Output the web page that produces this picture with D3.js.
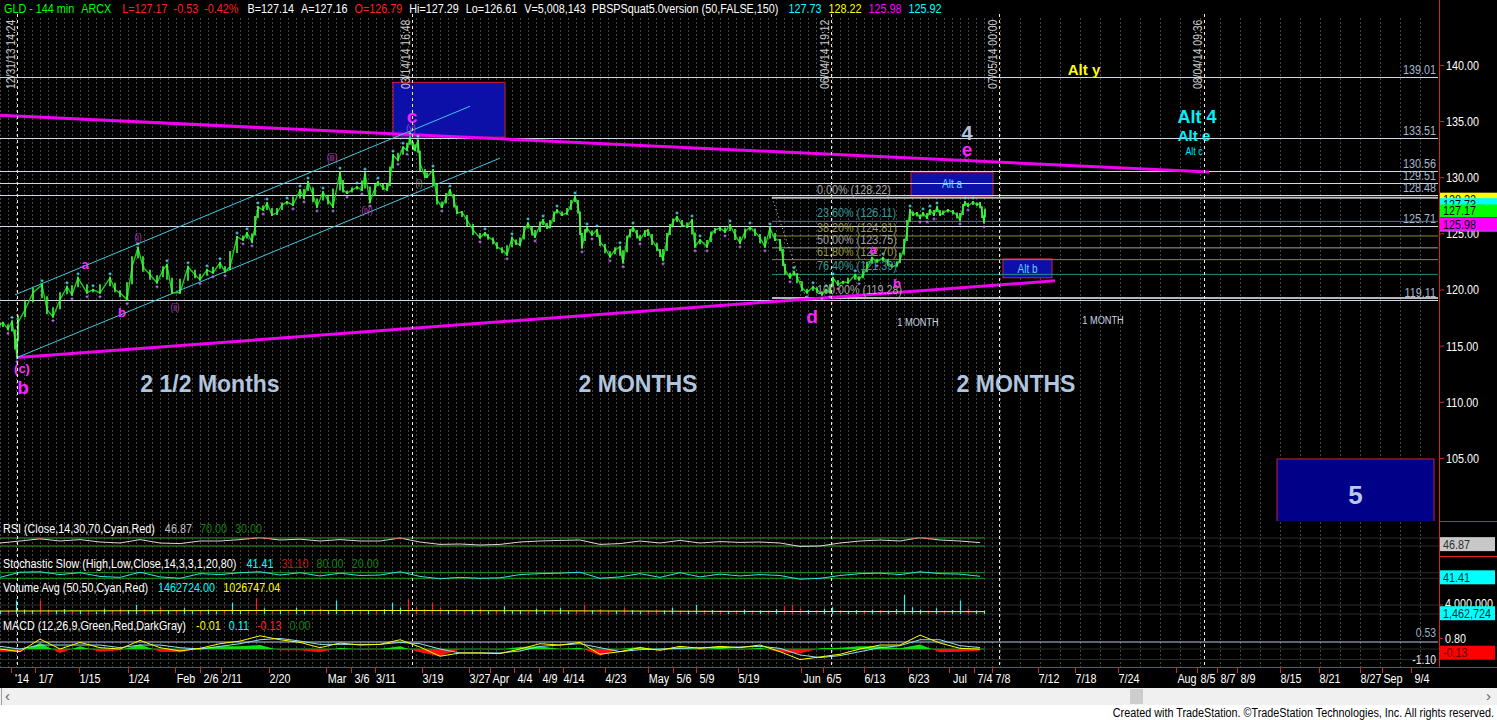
<!DOCTYPE html>
<html><head><meta charset="utf-8">
<script src="https://cdn.jsdelivr.net/npm/d3@7"></script>
<style>
html,body{margin:0;padding:0;background:#000;overflow:hidden}
svg{display:block}
text{font-family:'Liberation Sans',Arial,sans-serif}
</style></head><body>
<svg id="c" width="1497" height="720"></svg>
<script>
// ---------------- DATA ----------------
const headerText = ["GLD - 144 min","ARCX","L=127.17","-0.53","-0.42%","B=127.14","A=127.16","O=126.79","Hi=127.29","Lo=126.61","V=5,008,143","PBSPSquat5.0version (50,FALSE,150)","127.73","128.22","125.98","125.92"];
const headerCol  = ["#00ff00","#00ff00","#ff2020","#ff2020","#ff2020","#fff","#fff","#ff2020","#fff","#fff","#fff","#fff","#00ffff","#ffff00","#ff00ff","#00ffff"];
const headerGap  = [7,11,6,6,9,7,7,7,7,7,6,10,7,7,7,0];

const priceTicks = [105,110,115,120,125,130,135,140];
const xTickLabels = ["'14","1/7","1/15","1/24","Feb","2/6","2/11","2/20","Mar","3/6","3/11","3/19","3/27","Apr","4/4","4/9","4/14","4/23","May","5/6","5/9","5/19","Jun","6/5","6/13","6/23","Jul","7/4","7/8","7/12","7/18","7/24","Aug","8/5","8/7","8/9","8/15","8/21","8/27","Sep","9/4"];
const xTickBars   = [11,23,45,69.5,93,105.5,116,140,168.5,181,193,216.5,240,250.5,262.5,275,287,308,329.5,342,353.5,374.5,406,417,437.5,459.5,480,492.5,501.5,524.5,543,564.5,593.5,604,614,624,645.5,665,685.5,696.5,711];

// price path [bar, price]
const pricePath = [[0,116.9],[1.5,117.09],[4,116.5],[6,117.2],[7.5,115.58],[8.5,113.98],[9,117.09],[12.5,118.24],[16.5,119.75],[21,120.46],[23.5,118.24],[26.5,117.62],[30,119.13],[33.5,120.28],[36,119.57],[39,121.08],[43.5,119.75],[46.5,120.02],[50,119.75],[55,121.08],[57.5,120.02],[60,119.75],[63.5,119.13],[66,122.06],[69,123.75],[71.5,122.06],[75,121.35],[78.5,120.64],[81.5,121.79],[83.5,122.24],[86,119.75],[90,119.75],[94,122.06],[97.5,121.35],[100,120.91],[103.5,121.79],[106.5,121.53],[110,122.42],[112.5,121.62],[115,122.06],[118.5,124.72],[121.5,124.46],[123.5,125.08],[126,124.28],[127.5,125.61],[129,127.39],[131.5,127.12],[133.5,127.74],[136,126.68],[138.5,126.86],[141,127.57],[143.5,127.83],[146.5,127.57],[150,128.9],[152,128.19],[154,129.61],[156.5,128.45],[158.5,127.39],[161.5,128.72],[164,128.01],[166.5,127.39],[170,130.5],[171.5,128.9],[173.5,128.63],[176,128.9],[178.5,129.17],[181,128.9],[182.5,130.41],[185,127.83],[187.5,129.08],[189,129.61],[191.5,129.08],[193.5,128.9],[195,129.79],[196.5,132.01],[199,131.56],[201.5,132.72],[203.5,132.45],[205,133.61],[206.5,132.63],[207.5,132.45],[209,133.34],[210,131.3],[212.5,130.05],[213.5,130.05],[216.5,130.68],[218.5,128.01],[221,127.39],[223,128.19],[225,128.9],[227,128.01],[228.5,126.86],[231,126.94],[233.5,126.23],[236.5,125.35],[240,124.64],[242.5,125.08],[244,124.72],[246.5,124.46],[248.5,123.84],[251,123.57],[253.5,123.13],[256,124.64],[258,124.19],[260,124.01],[262,125.17],[264,125.97],[266,125.17],[267.5,124.72],[270,125.79],[271.5,126.23],[273.5,125.52],[275,125.61],[277,126.68],[278.5,127.12],[281,126.68],[283.5,126.86],[285.5,127.57],[287.5,128.28],[289,127.57],[290,126.23],[291,123.75],[292.5,125.17],[293.5,125.52],[296,124.9],[298.5,125.35],[300,124.28],[302.5,123.75],[305,122.95],[307.5,123.57],[310,123.84],[311.5,122.42],[313.5,124.46],[315,125.08],[316.5,125.61],[318.5,124.9],[320,124.46],[322.5,125.17],[324,125.35],[326,124.46],[328.5,123.75],[330,123.39],[331.5,122.68],[333.5,124.46],[335,125.52],[336.5,126.06],[338.5,126.5],[341,125.79],[343.5,125.61],[346,126.23],[347.5,123.84],[350,124.46],[353.5,123.84],[355.5,124.9],[357.5,125.35],[360,125.52],[362.5,125.17],[365,125.79],[367.5,124.9],[370,124.19],[372.5,125.17],[375,125.61],[377.5,125.17],[380,124.64],[382.5,123.84],[385,125.52],[387.5,124.46],[390,124.46],[391.5,122.68],[392.5,121.79],[395,121.08],[397,121.62],[398.5,121.17],[401,120.2],[403.5,119.75],[406.5,120.28],[408.5,120.02],[411,119.57],[413,120.02],[415,119.75],[416.5,121.08],[419,120.46],[421.5,120.73],[424,120.64],[427.5,121.35],[429.5,120.91],[431.5,121.35],[433.5,121.97],[436,122.86],[438.5,122.51],[441.5,122.86],[444,122.42],[446,122.06],[448.5,122.24],[450,122.68],[452,123.75],[453.5,125.17],[455,127.12],[456.5,126.68],[458.5,126.86],[460,126.41],[461.5,126.86],[463.5,126.41],[465,127.12],[467,126.68],[468.5,127.39],[470,126.68],[471.5,126.86],[474,127.12],[476.5,126.94],[478.5,126.68],[480,126.23],[481.5,127.3],[482.5,127.83],[484,127.48],[486.5,127.83],[488.5,127.57],[490,127.74],[491,127.0],[492,125.98],[492.5,127.17]];

const levelLines = [139.01,133.51,130.56,129.51,128.48,125.71,119.11];
const fibPct = ["0.00%","23.60%","38.20%","50.00%","61.80%","76.40%","100.00%"];
const fibVal = [128.22,126.11,124.81,123.75,122.70,121.39,119.28];
const fibStartBar = 386, fibLabelBar = 408.5;
const fibDiag = [[386,128.22],[403,119.28]];

const upperTrend = [[0,135.55],[604.5,130.5]];
const lowerTrend = [[8.5,113.98],[527.5,120.82]];
const chanUpper = [[7.5,119.57],[235,136.36]];
const chanLower = [[8.5,113.98],[250,131.74]];

const boxNames = ["","Alt a","Alt b","5"];
const boxBar0  = [196.5,455.5,501.5,638.5];
const boxBar1  = [252.5,496.5,526,717];
const boxHi    = [138.49,130.5,122.77,104.95];
const boxLo    = [133.61,128.37,121.08,99.0];

const dateLineBars = [8.5,206,415.5,499.5,602];
const dateLineText = ["12/31/13 14:24","03/14/14 16:48","06/04/14 19:12","07/05/14 00:00","08/04/14 09:36"];

// annotations: text, bar, price, kind
const annText = ["c","(v)","(iii)","(iv)","(i)","(ii)","a","b","(c)","b","(i)","d","a","b","4","e","c","Alt y","Alt 4","Alt e","Alt c","1 MONTH","1 MONTH","2 1/2 Months","2 MONTHS","2 MONTHS"];
const annBar  = [206,205.5,166,183.5,69,87.5,42.5,61,11,11.5,209.5,406,436.5,448.5,483.5,483.5,483,542,598.5,597,597,459,551.5,105,319,508];
const annPrice= [135.45,134.4,131.74,127.03,124.64,118.42,122.24,117.97,113.0,111.3,129.5,117.62,123.57,120.55,133.96,132.54,131.7,139.6,135.4,133.8,132.4,117.1,117.3,111.67,111.67,111.67];
const annKind = ["major","sub","sub","sub","sub","sub","minor","minor","minor","major","subg","major","minor","minor","four","majorE","tiny","altY","alt4","altE","altC","month","month","dur","dur","dur"];

const axisBoxVal = [125.92,125.98,128.22,127.73,127.17];
const axisBoxCol = ["#00ffff","#ff00ff","#ffff00","#00ffff","#00ff00"];

// indicators, sampled every 10 bars
const rsiVals = [45,55,66,55,62,50,45,62,45,42,55,55,62,72,60,64,55,62,55,55,70,50,38,40,35,38,50,55,58,60,38,42,55,45,58,45,52,48,50,45,28,30,45,55,60,55,72,60,55,46.87];
const stochVals = [30,85,90,60,80,40,30,85,35,20,70,60,80,90,55,80,45,75,50,55,90,40,15,30,20,25,60,70,75,85,20,35,70,30,80,35,65,45,60,50,10,20,50,70,75,60,90,70,65,41.41];
const macdVals = [0.0,-0.2,0.75,0.0,0.5,0.1,0.0,0.65,0.1,-0.15,0.05,0.4,0.6,1.0,0.7,0.5,0.1,0.45,0.3,0.35,0.7,0.15,-0.55,-0.3,-0.3,-0.35,0.0,0.4,0.3,0.5,-0.4,-0.2,0.1,-0.1,0.2,0.05,0.2,0.1,0.3,-0.2,-0.8,-0.6,-0.4,0.0,0.3,0.3,1.05,0.45,0.05,-0.01];
const signalVals = [0.2,0.0,0.3,0.3,0.3,0.3,0.1,0.3,0.3,0.1,0.0,0.2,0.4,0.7,0.8,0.6,0.35,0.35,0.35,0.35,0.5,0.4,0.0,-0.3,-0.3,-0.3,-0.15,0.2,0.3,0.4,0.1,-0.2,-0.05,0.0,0.05,0.1,0.1,0.15,0.2,0.05,-0.45,-0.65,-0.5,-0.2,0.1,0.25,0.7,0.7,0.25,0.11];
// volume in millions every 4 bars, sign = up(+)/down(-)
const volVals = [1.2,-1.5,6.0,2.0,1.5,-6.0,-2.0,1.4,2.2,-1.2,1.6,-1.8,1.0,2.4,-1.3,-2.5,1.8,4.0,-2.2,1.4,-3.0,1.5,-1.6,2.6,1.3,-1.4,2.0,1.2,-1.5,5.0,1.8,-2.0,-7.0,2.5,-1.6,1.9,-1.2,2.8,1.5,-1.7,-2.4,1.3,6.0,-1.8,1.6,-2.0,1.4,-1.3,2.2,5.0,2.8,-6.5,-3.0,-2.2,-5.0,-2.6,1.8,-2.3,-1.5,2.0,-2.4,1.2,-1.6,3.5,1.4,1.8,-1.2,2.4,1.5,-1.3,2.6,1.2,-1.8,-4.0,1.6,-2.2,-1.5,1.3,-2.8,1.7,1.1,-1.4,-2.0,1.5,2.8,-1.2,1.4,4.0,-1.6,1.8,-1.1,1.3,-1.5,2.0,-1.2,1.6,-1.4,2.2,-3.5,-4.0,-2.5,1.8,-1.6,2.4,3.0,-1.5,1.3,1.8,-1.2,2.0,-1.8,1.5,2.2,8.5,3.0,2.0,-1.5,2.6,-1.3,1.8,6.0,-2.4,1.6,1.46];
const volAvgVals = [1.3,1.4,1.5,1.6,1.55,1.45,1.35,1.2,1.1,1.03];

// indicator title parts
const titleText = [
 ["RSI (Close,14,30,70,Cyan,Red)","46.87","70.00","30.00"],
 ["Stochastic Slow (High,Low,Close,14,3,3,1,20,80)","41.41","31.10","80.00","20.00"],
 ["Volume Avg (50,50,Cyan,Red)","1462724.00","1026747.04"],
 ["MACD (12,26,9,Green,Red,DarkGray)","-0.01","0.11","-0.13","0.00"]];
const titleCol = [
 ["#fff","#c0c0c0","#108010","#108010"],
 ["#fff","#00ffff","#d01010","#108010","#108010"],
 ["#fff","#00ffff","#ffff00"],
 ["#fff","#ffff00","#00ffff","#ff2020","#108010"]];

// ---------------- DRAW ----------------
const W=1497, H=720, PR=1439, MB=521, XA=667, NS=0.8;
const svg=d3.select('#c');
svg.append('rect').attr('width',W).attr('height',H).attr('fill','#000');

const x=d3.scaleLinear().domain([0,720]).range([0,1440]);
const y=d3.scaleLinear().domain([105,140]).range([458.4,65.4]);
const rsiY=d3.scaleLinear().domain([30,70]).range([546,538]);
const stoY=d3.scaleLinear().domain([20,80]).range([578.3,572.7]);
const volY=d3.scaleLinear().domain([0,4]).range([614,605]);
const macdY=d3.scaleLinear().domain([0,0.53]).range([649,642]);

const defs=svg.append('defs');
defs.append('clipPath').attr('id','cm').append('rect').attr('x',0).attr('y',0).attr('width',PR).attr('height',MB);
defs.append('clipPath').attr('id','ci').append('rect').attr('x',0).attr('y',MB).attr('width',PR).attr('height',XA-MB);

// grid
const gridBars=d3.range(0,500,4).concat(d3.range(500,720,10));
svg.append('g').selectAll('line').data(gridBars).join('line')
 .attr('x1',d=>Math.round(x(d))+0.5).attr('x2',d=>Math.round(x(d))+0.5)
 .attr('y1',18).attr('y2',XA).attr('stroke','#474747').attr('stroke-dasharray','2,2');

const gm=svg.append('g').attr('clip-path','url(#cm)');

// boxes
const boxIdx=d3.range(boxNames.length);
gm.selectAll('rect.box').data(boxIdx).join('rect').attr('class','box')
 .attr('x',i=>x(boxBar0[i])).attr('width',i=>x(boxBar1[i])-x(boxBar0[i]))
 .attr('y',i=>y(boxHi[i])).attr('height',i=>y(boxLo[i])-y(boxHi[i]))
 .attr('fill',i=>boxNames[i]==="5"?'#000088':'#0c10a8').attr('stroke','#c8203c').attr('stroke-width',1);
gm.selectAll('text.boxl').data(boxIdx.filter(i=>boxNames[i])).join('text')
 .attr('class',i=>boxNames[i]==="5"?'boxl':'boxl n')
 .attr('x',i=>(x(boxBar0[i])+x(boxBar1[i]))/2)
 .attr('y',i=>boxNames[i]==="5"?y(101.7):(y(boxHi[i])+y(boxLo[i]))/2)
 .attr('text-anchor','middle').attr('dominant-baseline','central')
 .style('font-weight',i=>boxNames[i]==="5"?'bold':'normal')
 .attr('font-size',i=>boxNames[i]==="5"?26:12.5)
 .attr('fill',i=>boxNames[i]==="5"?'#b8c8e8':'#60d0ff').text(i=>boxNames[i]);

// level lines
levelLines.forEach(v=>{
  gm.append('line').attr('x1',0).attr('x2',1438).attr('y1',Math.round(y(v))+0.5).attr('y2',Math.round(y(v))+0.5)
    .attr('stroke','#d0d8e6').attr('stroke-width',1);
  gm.append('text').attr('class','n').attr('x',1436).attr('y',y(v)-3).attr('text-anchor','end').attr('font-size',13.5)
    .attr('fill','#a8b8d0').text(v.toFixed(2));
});

// fib
const fibColor={"0.00%":"#b8b8b8","50.00%":"#a0a0a0","100.00%":"#b8b8b8","23.60%":"#2a8a8a","76.40%":"#2a8a8a","38.20%":"#8a8a2a","61.80%":"#8a8a2a"};
const fibText={"0.00%":"#a8a8a8","50.00%":"#a0a0a0","100.00%":"#a8a8a8","23.60%":"#3a9a9a","76.40%":"#3a9a9a","38.20%":"#9a9a40","61.80%":"#9a9a40"};
fibVal.forEach((v,i)=>{
  const wide=(fibPct[i]==="0.00%"||fibPct[i]==="100.00%");
  gm.append('line').attr('x1',x(fibStartBar)).attr('x2',1438).attr('y1',y(v)).attr('y2',y(v))
    .attr('stroke',fibColor[fibPct[i]]).attr('stroke-width',wide?2:1);
});
const ln=d3.line().x(d=>x(d[0])).y(d=>y(d[1]));
gm.append('path').attr('d',ln(fibDiag)).attr('stroke','#ddd').attr('stroke-dasharray','1,3').attr('fill','none');

// trendlines
[upperTrend,lowerTrend].forEach(t=>gm.append('path').attr('d',ln(t)).attr('stroke','#f000f0').attr('stroke-width',3).attr('fill','none'));
[chanUpper,chanLower].forEach(t=>gm.append('path').attr('d',ln(t)).attr('stroke','#40c8e0').attr('stroke-width',1).attr('fill','none'));

// price bars
const segs=pricePath.map((d,i)=>{
  const a=i>0?(pricePath[i-1][1]+d[1])/2:d[1];
  const b=i<pricePath.length-1?(pricePath[i+1][1]+d[1])/2:d[1];
  return [d[0],Math.min(a,b,d[1]),Math.max(a,b,d[1])];
});
gm.append('path').attr('d',ln(pricePath)).attr('stroke','#22cc22').attr('stroke-width',1.4).attr('fill','none');
gm.selectAll('line.pb').data(segs).join('line')
 .attr('x1',d=>x(d[0])).attr('x2',d=>x(d[0])).attr('y1',d=>y(d[1])+1).attr('y2',d=>y(d[2])-1)
 .attr('stroke','#44ff44').attr('stroke-width',1.6);
const peaks=[],troughs=[];
for(let i=1;i<pricePath.length-1;i++){
  const p=pricePath[i][1],a=pricePath[i-1][1],b=pricePath[i+1][1];
  if(p-a>0.2&&p-b>0.2) peaks.push(pricePath[i]);
  if(a-p>0.2&&b-p>0.2) troughs.push(pricePath[i]);
}
gm.selectAll('path.pk').data(peaks).join('path').attr('d',d=>`M${x(d[0])-1.5},${y(d[1])-4}h3M${x(d[0])},${y(d[1])-5.5}v3`).attr('stroke','#50e8ff').attr('stroke-width',1);
gm.selectAll('path.tr').data(troughs).join('path').attr('d',d=>`M${x(d[0])-1.5},${y(d[1])+4}h3M${x(d[0])},${y(d[1])+2.5}v3`).attr('stroke','#c878ff').attr('stroke-width',1);

// fib labels
fibVal.forEach((v,i)=>{
  gm.append('text').attr('class','n').attr('x',x(fibLabelBar)).attr('y',y(v)-4).attr('font-size',13.5)
    .attr('fill',fibText[fibPct[i]]).text(fibPct[i]+" ("+v.toFixed(2)+")");
});

// annotations
const annStyle={
 major:{s:19,c:'#ff20ff',b:true},majorE:{s:19,c:'#ff20ff',b:true},minor:{s:13,c:'#ff30ff',b:true},
 sub:{s:10,c:'#c040c0',b:false},subg:{s:10,c:'#909090',b:false},tiny:{s:9,c:'#ff30ff',b:false},
 four:{s:20,c:'#b0c4de',b:true},altY:{s:15,c:'#ffff00',b:true},alt4:{s:18,c:'#00f0ff',b:true},
 altE:{s:15,c:'#00f0ff',b:true},altC:{s:11,c:'#00e0ff',b:false},month:{s:11.5,c:'#c8d8e8',b:false},
 dur:{s:23,c:'#b0c4de',b:true}};
gm.selectAll('text.ann').data(d3.range(annText.length)).join('text')
 .attr('class',i=>annStyle[annKind[i]].b?'ann':'ann n')
 .attr('x',i=>x(annBar[i])).attr('y',i=>y(annPrice[i])).attr('text-anchor','middle').attr('dominant-baseline','central')
 .style('font-weight',i=>annStyle[annKind[i]].b?'bold':'normal')
 .attr('font-size',i=>annStyle[annKind[i]].s).attr('fill',i=>annStyle[annKind[i]].c).text(i=>annText[i]);

// ------- indicators -------
const gi=svg.append('g').attr('clip-path','url(#ci)');
const indBars=d3.range(0,500,10);
const endBar=492.5;
[rsiY(70),rsiY(30),stoY(80),stoY(20),volY(4),volY(0),macdY(0),macdY(-0.8)].forEach(v=>{
  gi.append('line').attr('x1',0).attr('x2',PR).attr('y1',v).attr('y2',v).attr('stroke','#2c2c2c');
});
[70,30].forEach(v=>gi.append('line').attr('x1',0).attr('x2',x(endBar)).attr('y1',rsiY(v)).attr('y2',rsiY(v)).attr('stroke','#1f8f1f'));
const rsiLine=d3.line().x((d,i)=>x(indBars[i])).y(d=>rsiY(d));
gi.append('path').attr('d',rsiLine(rsiVals)).attr('stroke','#d8d8d8').attr('fill','none');
defs.append('clipPath').attr('id','rsiHi').append('rect').attr('x',0).attr('y',0).attr('width',PR).attr('height',rsiY(68));
gi.append('path').attr('d',rsiLine(rsiVals)).attr('stroke','#ff2020').attr('fill','none').attr('clip-path','url(#rsiHi)');
[80,20].forEach(v=>gi.append('line').attr('x1',0).attr('x2',x(endBar)).attr('y1',stoY(v)).attr('y2',stoY(v)).attr('stroke','#1f8f1f'));
const stoLine=d3.line().x((d,i)=>x(indBars[i])).y(d=>stoY(d));
gi.append('path').attr('d',stoLine(stochVals)).attr('stroke','#30e0e0').attr('fill','none');
gi.selectAll('line.vol').data(volVals).join('line')
 .attr('x1',(d,i)=>Math.round(x(i*4))+0.5).attr('x2',(d,i)=>Math.round(x(i*4))+0.5)
 .attr('y1',volY(0)).attr('y2',d=>volY(Math.abs(d))).attr('stroke',d=>d>=0?'#30f0f0':'#ff2020').attr('stroke-width',1.2);
const volAvgLine=d3.line().x((d,i)=>x(i*50+(i===volAvgVals.length-1?42.5:0))).y(d=>volY(d));
gi.append('path').attr('d',volAvgLine(volAvgVals)).attr('stroke','#ffff00').attr('fill','none');
gi.append('line').attr('x1',0).attr('x2',1438).attr('y1',macdY(0.53)).attr('y2',macdY(0.53)).attr('stroke','#b8c8e0');
gi.append('line').attr('x1',0).attr('x2',x(endBar)).attr('y1',macdY(0)).attr('y2',macdY(0)).attr('stroke','#1f8f1f');
const diff=macdVals.map((m,i)=>m-signalVals[i]);
const area=d3.area().x((d,i)=>x(indBars[i])).y0(macdY(0)).y1(d=>macdY(d));
defs.append('clipPath').attr('id','mpos').append('rect').attr('x',0).attr('y',0).attr('width',PR).attr('height',macdY(0));
defs.append('clipPath').attr('id','mneg').append('rect').attr('x',0).attr('y',macdY(0)).attr('width',PR).attr('height',H);
gi.append('path').attr('d',area(diff)).attr('fill','#10e010').attr('clip-path','url(#mpos)');
gi.append('path').attr('d',area(diff)).attr('fill','#ff1010').attr('clip-path','url(#mneg)');
const mline=d3.line().x((d,i)=>x(indBars[i])).y(d=>macdY(d));
gi.append('path').attr('d',mline(signalVals)).attr('stroke','#90e0f0').attr('fill','none');
gi.append('path').attr('d',mline(macdVals)).attr('stroke','#ffff00').attr('fill','none');

// indicator titles: laid out sequentially
const titleY=[533,568,592,630];
titleText.forEach((parts,r)=>{
  let cx=3;
  parts.forEach((s,k)=>{
    const t=svg.append('text').attr('class','n').attr('x',cx).attr('y',titleY[r]).attr('font-size',13.5).attr('fill',titleCol[r][k]).text(s);
    cx+=t.node().getComputedTextLength()*NS+(k===0?10:8);
  });
});

// dated dashed lines
svg.selectAll('line.dl').data(dateLineBars).join('line')
 .attr('x1',d=>Math.round(x(d))+0.5).attr('x2',d=>Math.round(x(d))+0.5).attr('y1',14).attr('y2',XA)
 .attr('stroke','#e8e8e8').attr('stroke-dasharray','3,3');
svg.selectAll('text.dl').data(dateLineBars).join('text').attr('class','dl n')
 .attr('transform',(d,i)=>`translate(${Math.round(x(d))-2},89) rotate(-90)`)
 .attr('font-size',13).attr('fill','#c8c8c8').text((d,i)=>dateLineText[i]);

// header: laid out sequentially
{
  let cx=4;
  headerText.forEach((s,k)=>{
    const t=svg.append('text').attr('class','n').attr('x',cx).attr('y',13).attr('font-size',13.5).attr('fill',headerCol[k]).text(s);
    cx+=t.node().getComputedTextLength()*NS+headerGap[k];
  });
}

// right axis
svg.append('line').attr('x1',PR+0.5).attr('x2',PR+0.5).attr('y1',0).attr('y2',XA).attr('stroke','#e02020');
[MB,556].forEach(v=>svg.append('line').attr('x1',PR).attr('x2',W).attr('y1',v+0.5).attr('y2',v+0.5).attr('stroke','#e02020'));
priceTicks.forEach(v=>{
  svg.append('line').attr('x1',PR).attr('x2',PR+5).attr('y1',y(v)).attr('y2',y(v)).attr('stroke','#e02020');
  svg.append('text').attr('class','n').attr('x',PR+7).attr('y',y(v)).attr('dominant-baseline','central').attr('font-size',13.5).attr('fill','#fff').text(v.toFixed(2));
});
axisBoxVal.forEach((v,i)=>{
  const cy=y(v)+1.5;
  svg.append('rect').attr('x',PR+1).attr('y',cy-6.5).attr('width',W-PR-1).attr('height',13).attr('fill',axisBoxCol[i]);
  svg.append('text').attr('class','n').attr('x',PR+4).attr('y',cy).attr('dominant-baseline','central').attr('font-size',13.5).attr('fill','#000').text(v.toFixed(2));
});
function valBox(cy,txt,bg,fg){
  svg.append('rect').attr('x',PR+1).attr('y',cy-7).attr('width',W-PR-3).attr('height',14).attr('fill',bg);
  svg.append('text').attr('class','n').attr('x',PR+4).attr('y',cy).attr('dominant-baseline','central').attr('font-size',13.5).attr('fill',fg).text(txt);
}
valBox(rsiY(46.87)+1.5,"46.87","#c8c8c8","#303030");
valBox(stoY(41.41)+1,"41.41","#00ffff","#003030");
svg.append('line').attr('x1',PR).attr('x2',PR+4).attr('y1',volY(4)).attr('y2',volY(4)).attr('stroke','#e02020');
svg.append('text').attr('class','n').attr('x',PR+6).attr('y',volY(4)-1).attr('dominant-baseline','central').attr('font-size',13.5).attr('fill','#fff').text("4,000,000");
valBox(volY(1.462724)+2.5,"1,462,724","#00ffff","#003030");
svg.append('line').attr('x1',PR).attr('x2',PR+4).attr('y1',macdY(0.8)).attr('y2',macdY(0.8)).attr('stroke','#e02020');
svg.append('text').attr('class','n').attr('x',PR+6).attr('y',macdY(0.8)).attr('dominant-baseline','central').attr('font-size',13.5).attr('fill','#fff').text("0.80");
valBox(macdY(-0.13)+2,"-0.13","#ff0000","#600000");
svg.append('text').attr('class','n').attr('x',1436).attr('y',macdY(0.53)-5).attr('text-anchor','end').attr('font-size',13).attr('fill','#a0b0c8').text("0.53");
svg.append('text').attr('class','n').attr('x',1436).attr('y',659).attr('text-anchor','end').attr('dominant-baseline','central').attr('font-size',13).attr('fill','#e8e8f8').text("-1.10");

// x axis
svg.append('line').attr('x1',0).attr('x2',W).attr('y1',XA+0.5).attr('y2',XA+0.5).attr('stroke','#e02020');
svg.selectAll('line.xt').data(xTickBars).join('line')
 .attr('x1',d=>Math.round(x(d))-10.5).attr('x2',d=>Math.round(x(d))-10.5).attr('y1',XA).attr('y2',XA+6).attr('stroke','#e02020');
svg.selectAll('text.xl').data(xTickBars).join('text').attr('class','xl n').attr('x',d=>x(d)).attr('y',683).attr('text-anchor','middle')
 .attr('font-size',13.5).attr('fill','#fff').text((d,i)=>xTickLabels[i]);

// scrollbar + footer
svg.append('rect').attr('x',0).attr('y',688).attr('width',W).attr('height',17).attr('fill','#f0f0f0');
svg.append('rect').attr('x',0).attr('y',705).attr('width',W).attr('height',15).attr('fill','#fff');
svg.append('rect').attr('x',1130).attr('y',689).attr('width',13).attr('height',15).attr('fill','#cdcdcd');
svg.append('line').attr('x1',1.5).attr('x2',1.5).attr('y1',688).attr('y2',705).attr('stroke','#a0a0a0');
svg.append('text').attr('x',5).attr('y',701).attr('font-size',15).attr('fill','#606060').text("‹");
svg.append('text').attr('x',1486).attr('y',701).attr('font-size',15).attr('fill','#606060').text("›");
svg.append('text').attr('class','n').attr('x',1494).attr('y',717).attr('text-anchor','end').attr('font-size',13.5).attr('fill','#000')
 .text("Created with TradeStation. ©TradeStation Technologies, Inc. All rights reserved.");

// narrow-font emulation: horizontally condense small texts about their anchor
svg.selectAll('text.n').each(function(){
  const t=d3.select(this);
  const tx=+t.attr('x')||0, ty=+t.attr('y')||0;
  const pre=t.attr('transform')||'';
  t.attr('transform',`${pre} translate(${tx},${ty}) scale(${NS},1) translate(${-tx},${-ty})`);
});
</script>
</body></html>
